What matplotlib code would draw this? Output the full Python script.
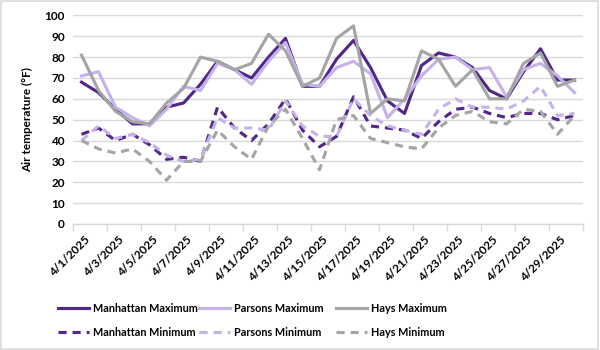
import matplotlib
matplotlib.use("Agg")
import matplotlib.pyplot as plt
from matplotlib.patches import Rectangle

plt.rcParams['font.family'] = ['Lato', 'DejaVu Sans']

dates = [f"4/{d}/2025" for d in range(1, 31)]

manhattan_max = [68, 63, 55, 48, 48, 56, 58, 67, 78, 74, 70, 80, 89, 66, 66, 79, 88, 75, 59, 53, 76, 82, 80, 75, 64, 60, 73, 84, 69, 69]
parsons_max = [71, 73, 56, 51, 47, 55, 66, 64, 77, 74, 67, 78, 87, 67, 66, 75, 78, 72, 51, 60, 71, 79, 80, 74, 75, 61, 74, 77, 71, 63]
hays_max = [81, 64, 54, 49, 48, 58, 65, 80, 78, 74, 77, 91, 83, 66, 70, 89, 95, 53, 60, 59, 83, 79, 66, 74, 60, 60, 77, 82, 66, 69]
manhattan_min = [43, 46, 40, 43, 38, 31, 32, 30, 56, 46, 40, 48, 60, 45, 37, 42, 61, 47, 46, 45, 41, 49, 55, 56, 53, 51, 53, 53, 50, 52]
parsons_min = [40, 47, 41, 43, 39, 33, 30, 31, 51, 46, 46, 45, 59, 47, 42, 42, 60, 52, 47, 45, 43, 55, 60, 56, 56, 55, 59, 66, 52, 53]
hays_min = [40, 36, 34, 36, 30, 21, 30, 30, 45, 37, 31, 47, 55, 41, 26, 50, 52, 41, 39, 37, 36, 46, 52, 54, 49, 48, 55, 54, 43, 52]

c_man = '#512888'
c_par = '#c6b2ea'
c_hay = '#a5a5a5'
grid_c = '#d9d9d9'

fig = plt.figure(figsize=(6, 3.5), dpi=100)
fig.patches.append(Rectangle((0.002, 0.003), 0.995, 0.994, transform=fig.transFigure,
                             fill=False, edgecolor='#d9d9d9', linewidth=1.2))
ax = fig.add_axes([0.1217, 0.36, 0.85, 0.596])

x = list(range(len(dates)))
lw = 2.25
dash = (0, (2.6, 1.9))
h1, = ax.plot(x, manhattan_max, color=c_man, lw=lw, label='Manhattan Maximum')
h2, = ax.plot(x, parsons_max, color=c_par, lw=lw, label='Parsons Maximum')
h3, = ax.plot(x, hays_max, color=c_hay, lw=lw, label='Hays Maximum')
h4, = ax.plot(x, manhattan_min, color=c_man, lw=lw, ls=dash, label='Manhattan Minimum')
h5, = ax.plot(x, parsons_min, color=c_par, lw=lw, ls=dash, label='Parsons Minimum')
h6, = ax.plot(x, hays_min, color=c_hay, lw=lw, ls=dash, label='Hays Minimum')

ax.set_xlim(-0.5, len(dates) - 0.5)
ax.set_ylim(0, 100)
ax.set_yticks(range(0, 101, 10))
ax.yaxis.grid(True, color=grid_c, linewidth=1)
ax.set_axisbelow(True)
for s in ['left', 'right', 'top']:
    ax.spines[s].set_visible(False)
ax.spines['bottom'].set_color(grid_c)
ax.spines['bottom'].set_linewidth(1)
ax.tick_params(axis='y', length=0, labelsize=8.5, pad=6)
for t in ax.get_yticklabels():
    t.set_fontweight('bold')

ax.set_xticks([i - 0.5 for i in range(0, len(dates) + 1, 2)], minor=False)
ax.set_xticklabels([])
ax.tick_params(axis='x', which='major', length=5, color=grid_c, width=1)
for i in range(0, len(dates), 2):
    ax.text(i + 0.15, -5, dates[i], rotation=45, ha='right', va='top',
            rotation_mode='anchor', fontsize=8.5, fontweight='bold')

ax.set_ylabel('Air temperature (°F)', fontsize=8.5, fontweight='bold', labelpad=8)

cols = [([h1, h4], 58), ([h2, h5], 199), ([h3, h6], 336)]
for handles, xpx in cols:
    leg = fig.legend(handles=handles, ncol=1, loc='center left',
                     bbox_to_anchor=(xpx / 600, 1 - 320 / 350), frameon=False,
                     prop={'family': ['Liberation Sans Narrow', 'Lato'],
                           'weight': 'bold', 'size': 7.8},
                     handlelength=2.9, handletextpad=0.35,
                     labelspacing=1.2, borderpad=0, borderaxespad=0)

fig.savefig('out.png', dpi=100)
